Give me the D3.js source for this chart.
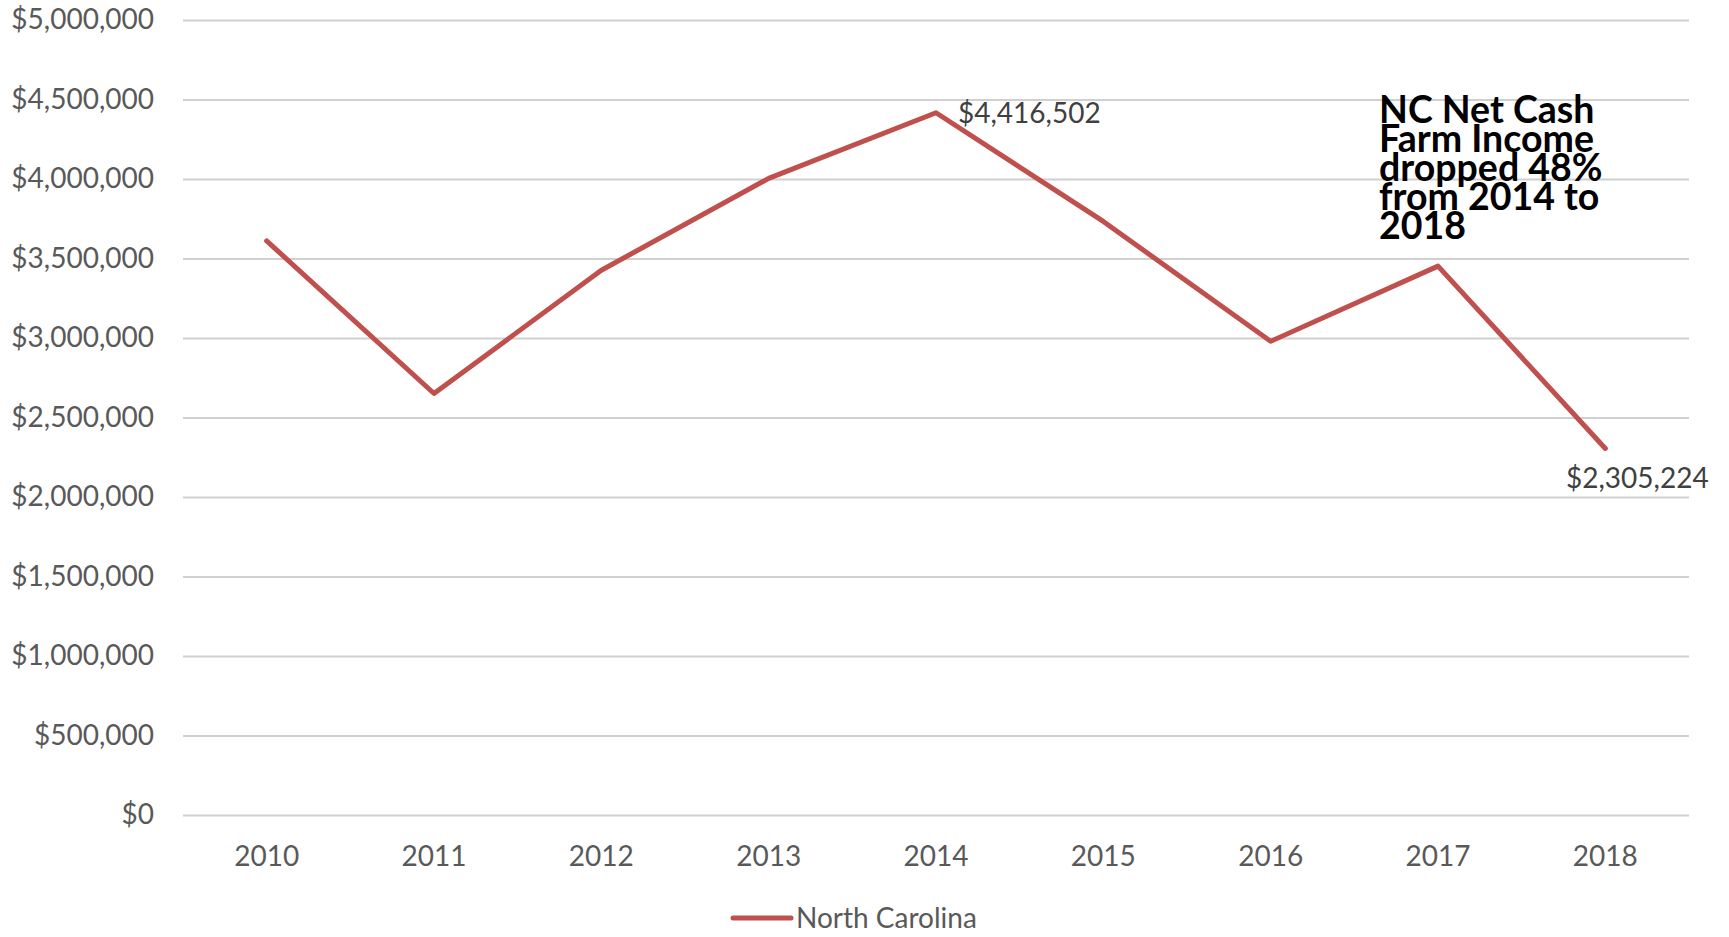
<!DOCTYPE html>
<html>
<head>
<meta charset="utf-8">
<script src="https://cdn.jsdelivr.net/npm/d3@7"></script>
<style>
  html, body { margin: 0; padding: 0; background: #fff; }
  svg { display: block; }
  text { font-family: Lato, "Open Sans", sans-serif; }
</style>
</head>
<body>
<svg id="chart" width="1729" height="937"></svg>
<script>
// ---- data ----
const years = ["2010","2011","2012","2013","2014","2015","2016","2017","2018"];
const values = [3611000, 2651000, 3426000, 4004000, 4416502, 3733000, 2979000, 3452000, 2305224];
const seriesName = "North Carolina";
const yTicks = [0, 500000, 1000000, 1500000, 2000000, 2500000, 3000000, 3500000, 4000000, 4500000, 5000000];
const labeledYears = ["2014", "2018"];
const annotationLines = ["NC Net Cash", "Farm Income", "dropped 48%", "from 2014 to", "2018"];

// ---- layout ----
const margin = { left: 183, right: 40, top: 20, bottom: 122 };
const W = 1729, H = 937;
const plotW = W - margin.left - margin.right;  // 1506
const plotH = H - margin.top - margin.bottom;  // 795

const svg = d3.select("#chart");
const g = svg.append("g").attr("transform", `translate(${margin.left},${margin.top})`);

const x = d3.scaleBand().domain(years).range([0, plotW]).padding(0);
const y = d3.scaleLinear().domain([0, 5000000]).range([plotH, 0]);
const fmt = d3.format("$,.0f");
const cx = d => x(d) + x.bandwidth() / 2;

// y axis with gridlines
const yAxis = g.append("g")
  .call(d3.axisLeft(y).tickValues(yTicks).tickFormat(fmt).tickSize(-plotW).tickPadding(29));
yAxis.select(".domain").remove();
yAxis.selectAll(".tick line").attr("stroke", "#d0d0d0").attr("stroke-width", 2);
yAxis.selectAll(".tick text")
  .attr("fill", "#595959").style("font-size", "28px").style("font-family", "Lato, sans-serif");

// x axis
const xAxis = g.append("g").attr("transform", `translate(0,${plotH})`)
  .call(d3.axisBottom(x).tickSize(0).tickPadding(0));
xAxis.select(".domain").remove();
xAxis.selectAll(".tick text")
  .attr("fill", "#595959").attr("y", 41).attr("dy", "0.35em")
  .style("font-size", "28px").style("font-family", "Lato, sans-serif");

// line
const line = d3.line().x((d, i) => cx(years[i])).y(d => y(d));
g.append("path").datum(values)
  .attr("d", line)
  .attr("fill", "none")
  .attr("stroke", "#C0504D")
  .attr("stroke-width", 5)
  .attr("stroke-linejoin", "round")
  .attr("stroke-linecap", "round");

// data labels
years.forEach((yr, i) => {
  if (!labeledYears.includes(yr)) return;
  const px = cx(yr), py = y(values[i]);
  const t = g.append("text").text(fmt(values[i]))
    .attr("fill", "#404040").style("font-size", "28px");
  if (yr === "2014") {
    t.attr("x", px + 22).attr("y", py).attr("dy", "0.35em").attr("text-anchor", "start");
  } else {
    t.attr("x", px + 32).attr("y", py + 40).attr("text-anchor", "middle");
  }
});

// annotation
const ann = svg.append("text")
  .attr("x", 1379).attr("y", 123)
  .attr("fill", "#000").style("font-weight", "bold").style("font-size", "37.5px");
annotationLines.forEach((s, i) => {
  ann.append("tspan").attr("x", 1379).attr("y", 123 + i * 29).text(s);
});

// legend
const lg = svg.append("g");
lg.append("line").attr("x1", 733).attr("x2", 791).attr("y1", 918).attr("y2", 918)
  .attr("stroke", "#C0504D").attr("stroke-width", 5).attr("stroke-linecap", "round");
lg.append("text").attr("x", 796).attr("y", 918).attr("dy", "0.35em")
  .attr("fill", "#595959").style("font-size", "28px").text(seriesName);
</script>
</body>
</html>
